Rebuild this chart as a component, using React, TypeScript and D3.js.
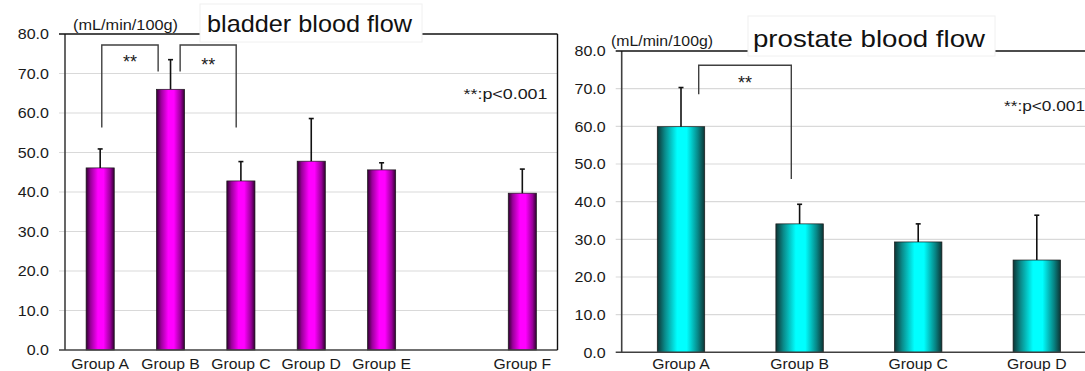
import React from "react";
import * as d3 from "d3";

// ---- data ----
const leftCategories = ["Group A", "Group B", "Group C", "Group D", "Group E", "", "Group F"];
const leftValues: (number | null)[] = [46.1, 66.0, 42.8, 47.8, 45.6, null, 39.7];
const leftSD: (number | null)[] = [4.8, 7.5, 4.9, 10.8, 1.8, null, 6.1];

const rightCategories = ["Group A", "Group B", "Group C", "Group D"];
const rightValues = [59.9, 34.1, 29.3, 24.5];
const rightSD = [10.4, 5.2, 4.8, 11.9];

const yTicks = [0, 10, 20, 30, 40, 50, 60, 70, 80];
const leftTitle = "bladder blood flow";
const rightTitle = "prostate blood flow";
const unitLabel = "(mL/min/100g)";
const pLabel = "**:p<0.001";

// significance brackets (values in data units)
const leftBrackets = [
  { from: "Group A", to: "Group B", fromEnd: 56.3, toEnd: 70.5, top: 77.2 },
  { from: "Group B", to: "Group C", fromEnd: 70.5, toEnd: 56.3, top: 77.2 },
];
const rightBrackets = [{ from: "Group A", to: "Group B", fromEnd: 68.5, toEnd: 46.0, top: 76.2 }];

const FONT = "'Liberation Sans', Arial, sans-serif";
const fmt = d3.format(".1f");

type PanelProps = {
  cats: string[];
  values: (number | null)[];
  sd: (number | null)[];
  x0: number;
  x1: number;
  yTop: number;
  yBottom: number;
  gradId: string;
  brackets: { from: string; to: string; fromEnd: number; toEnd: number; top: number }[];
  bracketOffsets: [number, number][];
  starOffsets: [number, number][];
  clipRight: number;
  labelDy: number;
};

function Panel(p: PanelProps) {
  const key = (c: string, i: number) => c || `__empty${i}`;
  const x = d3
    .scaleBand<string>()
    .domain(p.cats.map((c, i) => key(c, i)))
    .range([p.x0, p.x1])
    .paddingInner(0.6)
    .paddingOuter(0.3);
  const y = d3.scaleLinear().domain([0, 80]).range([p.yBottom, p.yTop]);
  const right = Math.min(p.x1, p.clipRight);
  return (
    <g>
      {yTicks.filter((t) => t > 0 && t < 80).map((t) => (
        <line key={t} x1={p.x0 - 6} x2={right} y1={y(t)} y2={y(t)} stroke="#d9d9d9" strokeWidth={1.2} />
      ))}
      {p.cats.map((c, i) => {
        const v = p.values[i];
        if (v == null) return null;
        const bx = x(key(c, i))!;
        return (
          <rect key={i} x={bx} y={y(v)} width={x.bandwidth()} height={y(0) - y(v)} fill={`url(#${p.gradId})`} stroke="#1a1a1a" strokeWidth={0.7} />
        );
      })}
      {p.cats.map((c, i) => {
        const v = p.values[i];
        const s = p.sd[i];
        if (v == null || s == null) return null;
        const cx = x(key(c, i))! + x.bandwidth() / 2;
        return (
          <g key={i} stroke="#111" strokeWidth={1.6}>
            <line x1={cx} x2={cx} y1={y(v)} y2={y(v + s)} />
            <line x1={cx - 2.5} x2={cx + 2.5} y1={y(v + s)} y2={y(v + s)} />
          </g>
        );
      })}
      <line x1={p.x0} x2={p.x0} y1={p.yTop} y2={p.yBottom} stroke="#404040" strokeWidth={1.6} />
      <line x1={p.x0 - 6} x2={right} y1={p.yBottom} y2={p.yBottom} stroke="#404040" strokeWidth={1.6} />
      <line x1={p.x0 - 6} x2={right} y1={p.yTop} y2={p.yTop} stroke="#111" strokeWidth={1.4} />
      {p.x1 <= p.clipRight && <line x1={p.x1} x2={p.x1} y1={p.yTop} y2={p.yBottom} stroke="#111" strokeWidth={1.4} />}
      {yTicks.map((t) => (
        <text key={t} transform={`translate(${p.x0 - 16},${y(t) + 5.3}) scale(1.07,1)`} textAnchor="end" fontSize={15} fontFamily={FONT} fill="#1a1a1a">
          {fmt(t)}
        </text>
      ))}
      {p.cats.map((c, i) =>
        c ? (
          <text key={i} transform={`translate(${x(key(c, i))! + x.bandwidth() / 2},${p.yBottom + p.labelDy}) scale(1.05,1)`} textAnchor="middle" fontSize={15} fontFamily={FONT} fill="#1a1a1a">
            {c}
          </text>
        ) : null
      )}
      {p.brackets.map((b, i) => {
        const fi = p.cats.indexOf(b.from);
        const ti = p.cats.indexOf(b.to);
        const fx = x(key(b.from, fi))! + x.bandwidth() / 2 + p.bracketOffsets[i][0];
        const tx = x(key(b.to, ti))! + x.bandwidth() / 2 + p.bracketOffsets[i][1];
        return (
          <g key={i}>
            <path d={`M${fx},${y(b.fromEnd)}V${y(b.top)}H${tx}V${y(b.toEnd)}`} fill="none" stroke="#404040" strokeWidth={1.4} />
            <text x={(fx + tx) / 2 + p.starOffsets[i][0]} y={y(b.top) + p.starOffsets[i][1]} textAnchor="middle" fontSize={18} fontFamily={FONT} fill="#1a1a1a">
              **
            </text>
          </g>
        );
      })}
    </g>
  );
}

export default function App() {
  return (
    <svg width={1085} height={371} style={{ position: "absolute", left: 0, top: 0, background: "#fff" }}>
      <defs>
        <linearGradient id="gMag" x1="0" x2="1" y1="0" y2="0">
          <stop offset="0" stopColor="#2e002e" />
          <stop offset="0.16" stopColor="#9a009a" />
          <stop offset="0.42" stopColor="#ff00ff" />
          <stop offset="0.62" stopColor="#ff00ff" />
          <stop offset="0.86" stopColor="#990099" />
          <stop offset="1" stopColor="#2e002e" />
        </linearGradient>
        <linearGradient id="gCyan" x1="0" x2="1" y1="0" y2="0">
          <stop offset="0" stopColor="#0d3434" />
          <stop offset="0.16" stopColor="#0a8a8a" />
          <stop offset="0.42" stopColor="#00ffff" />
          <stop offset="0.62" stopColor="#00ffff" />
          <stop offset="0.86" stopColor="#078585" />
          <stop offset="1" stopColor="#0d3434" />
        </linearGradient>
      </defs>
      <rect x={0} y={0} width={1085} height={371} fill="#fff" />
      <Panel
        cats={leftCategories}
        values={leftValues}
        sd={leftSD}
        x0={65}
        x1={557.5}
        yTop={34}
        yBottom={350}
        gradId="gMag"
        brackets={leftBrackets}
        bracketOffsets={[[1.6, -12.4], [9.6, -4.7]]}
        starOffsets={[[0, 23], [0, 26]]}
        clipRight={1085}
        labelDy={18.5}
      />
      <Panel
        cats={rightCategories}
        values={rightValues}
        sd={rightSD}
        x0={621.7}
        x1={1096.1}
        yTop={51}
        yBottom={352.3}
        gradId="gCyan"
        brackets={rightBrackets}
        bracketOffsets={[[17.7, -8.3]]}
        starOffsets={[[0, 24]]}
        clipRight={1085}
        labelDy={16.5}
      />
      <rect x={200} y={4} width={222} height={38} fill="#fff" stroke="#f0f0f0" />
      <text x={207} y={32} fontSize={24} fontFamily={FONT} fill="#111" textLength={205} lengthAdjust="spacingAndGlyphs">
        {leftTitle}
      </text>
      <rect x={748} y={16} width={247} height={40} fill="#fff" stroke="#f0f0f0" />
      <text x={753} y={47} fontSize={24} fontFamily={FONT} fill="#111" textLength={232} lengthAdjust="spacingAndGlyphs">
        {rightTitle}
      </text>
      <text x={73} y={29.5} fontSize={14.5} fontFamily={FONT} fill="#1a1a1a" textLength={105} lengthAdjust="spacingAndGlyphs">
        {unitLabel}
      </text>
      <text x={611} y={45.5} fontSize={14.5} fontFamily={FONT} fill="#1a1a1a" textLength={102} lengthAdjust="spacingAndGlyphs">
        {unitLabel}
      </text>
      <text x={463.5} y={99} fontSize={15} fontFamily={FONT} fill="#1a1a1a" textLength={84} lengthAdjust="spacingAndGlyphs">
        {pLabel}
      </text>
      <text x={1004} y={111} fontSize={15} fontFamily={FONT} fill="#1a1a1a" textLength={81} lengthAdjust="spacingAndGlyphs">
        {pLabel}
      </text>
    </svg>
  );
}
